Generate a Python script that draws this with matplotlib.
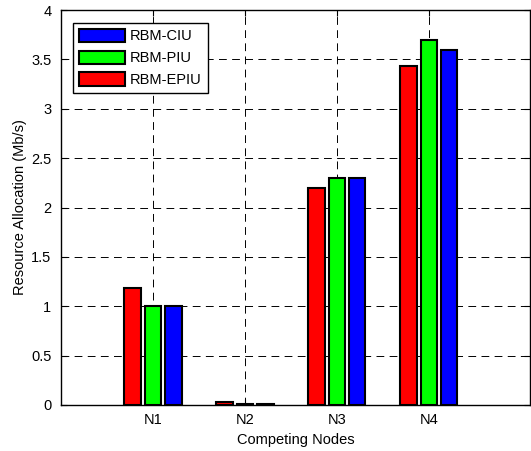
import numpy as np
import matplotlib.pyplot as plt
from matplotlib.patches import Patch

plt.rcParams['font.family'] = ['Liberation Sans', 'DejaVu Sans']

# data
nodes = ['N1', 'N2', 'N3', 'N4']
epiu = [1.18, 0.03, 2.20, 3.43]
piu = [1.00, 0.008, 2.30, 3.70]
ciu = [1.00, 0.008, 2.30, 3.60]

series = [('RBM-EPIU', epiu, '#ff0000'),
          ('RBM-PIU', piu, '#00ff00'),
          ('RBM-CIU', ciu, '#0000ff')]

fs = 10.5
fig = plt.figure(figsize=(5.31, 4.51), dpi=100)
ax = fig.add_axes([61 / 531, 46 / 451, 469 / 531, 395 / 451])

x = np.arange(1, len(nodes) + 1)
step = 0.222
width = 0.8 * step
for i, (name, vals, col) in enumerate(series):
    ax.bar(x + (i - 1) * step, vals, width, color=col, edgecolor='black',
           linewidth=1.5, label=name, zorder=3)

ax.set_xlim(0, 5.1)
ax.set_ylim(0, 4)
ax.set_xticks(x)
ax.set_xticklabels(nodes)
ax.set_yticks(np.arange(0, 4.01, 0.5))
ax.set_yticklabels(['0', '0.5', '1', '1.5', '2', '2.5', '3', '3.5', '4'])
ax.tick_params(direction='in', top=True, right=True, labelsize=fs, length=4)
ax.tick_params(axis='x', pad=6)
ax.tick_params(axis='y', pad=7)
ax.grid(True, color='black', linestyle=(0, (8, 5.5)), linewidth=0.7, zorder=0)
ax.set_axisbelow(True)
for s in ax.spines.values():
    s.set_linewidth(1.0)

ax.set_xlabel('Competing Nodes', fontsize=fs, labelpad=4)
ax.set_ylabel('Resource Allocation (Mb/s)', fontsize=fs, labelpad=3)

# legend in reverse order like the original
handles = [Patch(facecolor=c, edgecolor='black', linewidth=1.5) for _, _, c in series][::-1]
labels = [n for n, _, _ in series][::-1]
leg = ax.legend(handles, labels, loc='upper left', bbox_to_anchor=(0.026, 0.967),
                fontsize=fs, fancybox=False, framealpha=1, edgecolor='black',
                handlelength=3.15, handleheight=1.0, handletextpad=0.35,
                labelspacing=0.5, borderpad=0.4, borderaxespad=0)
leg.get_frame().set_linewidth(1.0)

fig.savefig('out.png', dpi=100)
